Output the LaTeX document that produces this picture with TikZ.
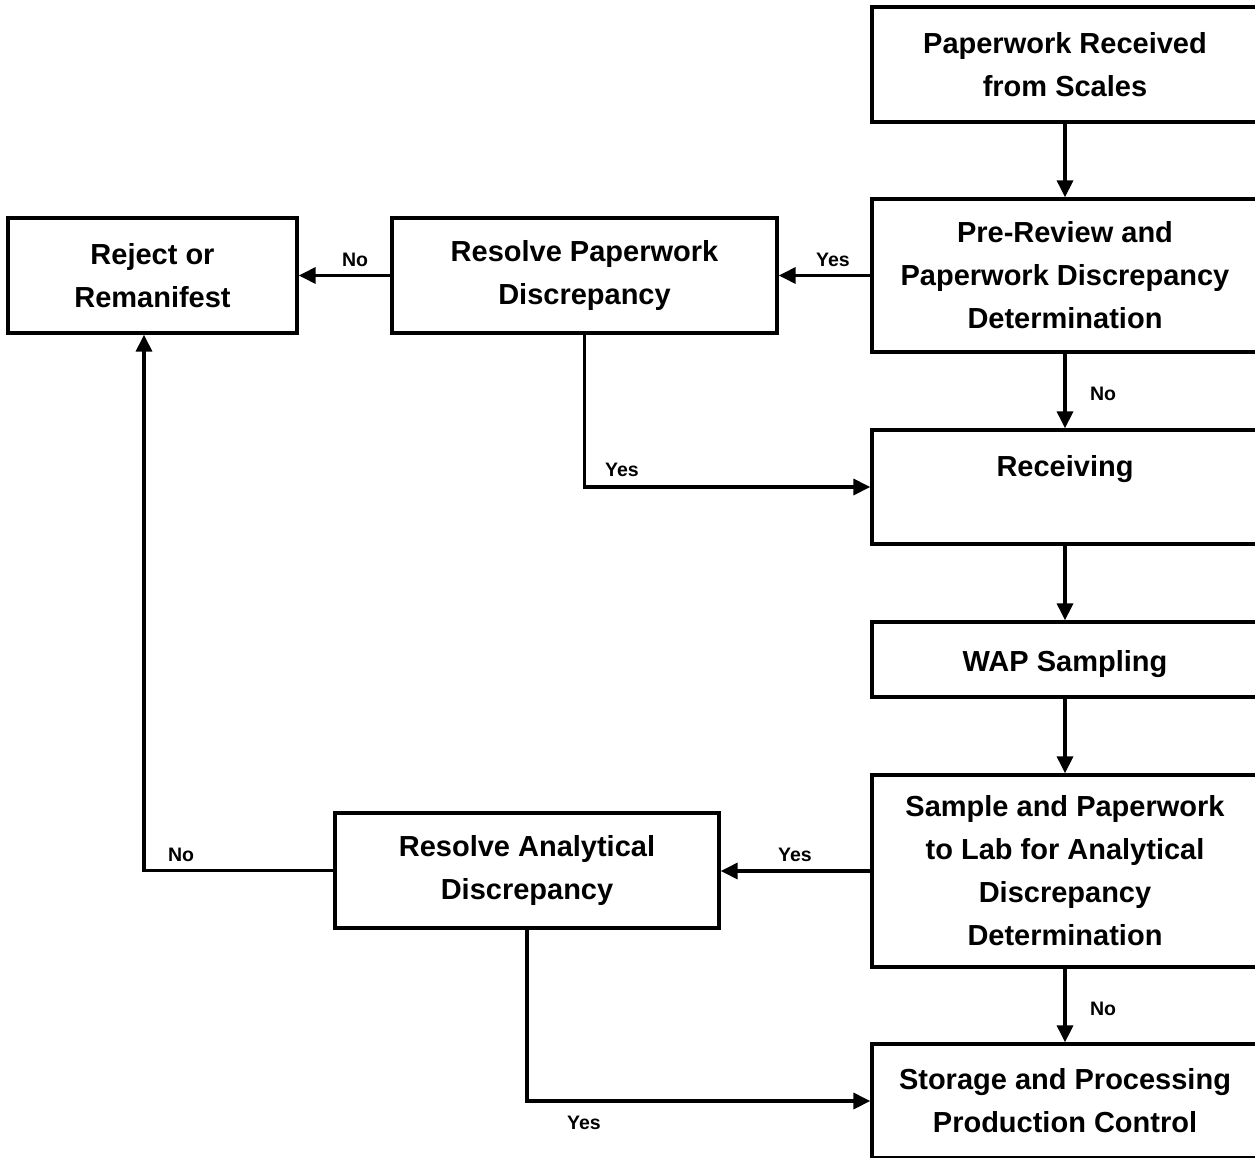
\documentclass[tikz,border=0pt]{standalone}
\usepackage{fontspec}
\setmainfont{Liberation Sans}
\usetikzlibrary{arrows.meta}
\begin{document}
\begin{tikzpicture}[x=1pt,y=-1pt,
  box/.style={draw=black,line width=3.3pt,rectangle,inner sep=0pt,align=center,
    font=\fontsize{29}{43}\selectfont\bfseries,
    execute at begin node={\rule{0pt}{31pt}}},
  conn/.style={line width=3.3pt,-{Triangle[length=17pt,width=16pt]}},
  lbl/.style={font=\fontsize{19.5}{22}\selectfont\bfseries,inner sep=0pt}]
\useasboundingbox (0,0) rectangle (1255,1158);
\fill[white] (0,0) rectangle (1255,1158);
\node[box,minimum width=386pt,minimum height=115pt] (n1) at (1065,64.5) {Paperwork Received\\from Scales};
\node[box,minimum width=386pt,minimum height=153pt] (n2) at (1065,275.5) {Pre-Review and\\Paperwork Discrepancy\\Determination};
\node[box,minimum width=385pt,minimum height=115pt] (rpd) at (584.5,275.5) {Resolve Paperwork\\Discrepancy};
\node[box,minimum width=289pt,minimum height=115pt] (rej) at (152.5,275.5) {Reject or\\Remanifest};
\node[box,minimum width=386pt,minimum height=114pt] (rec) at (1065,487) {Receiving\\\mbox{}};
\node[box,minimum width=386pt,minimum height=75pt] (wap) at (1065,659.5) {WAP Sampling};
\node[box,minimum width=386pt,minimum height=192pt] (samp) at (1065,871) {Sample and Paperwork\\to Lab for Analytical\\Discrepancy\\Determination};
\node[box,minimum width=386pt,minimum height=114pt] (stor) at (1065,1101) {Storage and Processing\\Production Control};
\node[box,minimum width=384pt,minimum height=115pt] (rad) at (527,870.5) {Resolve Analytical\\Discrepancy};
\draw[conn] (n1) -- (n2);
\draw[conn] (n2) -- (rpd);
\draw[conn] (rpd) -- (rej);
\draw[conn] (n2) -- (rec);
\draw[conn] (rpd.south) |- (rec.west);
\draw[conn] (rec) -- (wap);
\draw[conn] (wap) -- (samp);
\draw[conn] (samp.west) -- (rad.east |- samp.west);
\draw[conn] (rad.west) -| ([xshift=-8.5pt]rej.south);
\draw[conn] (samp) -- (stor);
\draw[conn] (rad.south) |- (stor.west);
\node[lbl] (l1) at (833,260) {Yes};
\node[lbl] (l2) at (355,260) {No};
\node[lbl] (l3) at (1103,394) {No};
\node[lbl] (l4) at (622,470) {Yes};
\node[lbl] (l5) at (795,855) {Yes};
\node[lbl] (l6) at (181,855) {No};
\node[lbl] (l7) at (1103,1009) {No};
\node[lbl] (l8) at (584,1123) {Yes};
\end{tikzpicture}
\end{document}
